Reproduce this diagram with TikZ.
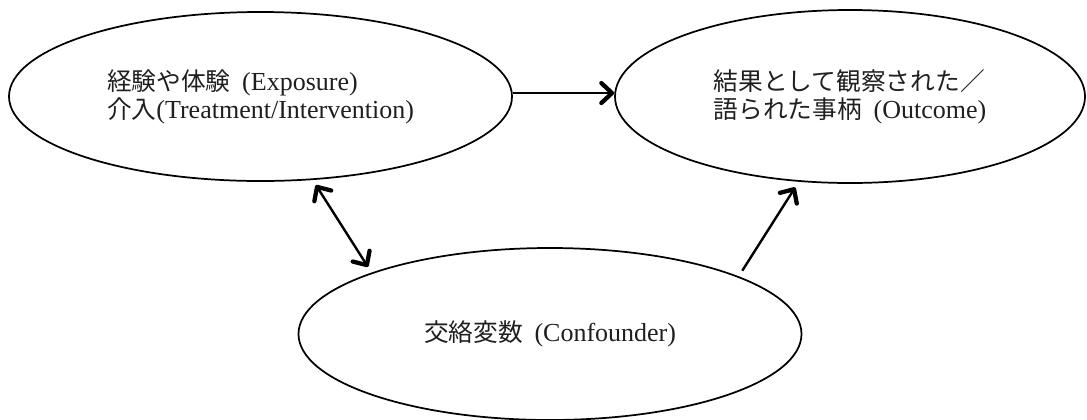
\documentclass[tikz,border=0pt]{standalone}
\usepackage{fontspec}
\setmainfont{Liberation Serif}
\newfontfamily\cjk[Scale=0.95]{Noto Sans CJK JP}
\usetikzlibrary{shapes.geometric,arrows.meta}
\begin{document}
\begin{tikzpicture}[x=0.75pt,y=-0.75pt,
  oval/.style={ellipse,draw,line width=1.3pt,inner sep=0pt,
    font=\fontsize{19.5pt}{21pt}\selectfont,align=left,text=black!88},
  >={Straight Barb[length=8pt,width=15pt,line width=3.2pt,round]},
  arr/.style={line width=1.8pt,->},
  darr/.style={line width=1.8pt,<->}]
\useasboundingbox (0,0) rectangle (1087,419);
\node[oval,minimum width=377.25pt,minimum height=126.75pt] (L) at (260.5,96.5)
  {{\cjk 経験や体験}\hspace{0.45em}(Exposure)\\{\cjk 介入}(Treatment/Intervention)};
\node[oval,minimum width=352.5pt,minimum height=129.75pt] (R) at (850,96.5)
  {{\cjk 結果として観察された／}\\{\cjk 語られた事柄}\hspace{0.45em}(Outcome)};
\node[oval,minimum width=377.25pt,minimum height=129pt] (C) at (550,334)
  {{\cjk 交絡変数}\hspace{0.45em}(Confounder)};
\draw[arr] ([yshift=2.6pt]L.east) -- ([yshift=2.6pt]R.west);
\draw[darr,shorten <=4.5pt,shorten >=5pt] (L.-58.6) -- (C.161.6);
\draw[arr,shorten <=5pt,shorten >=5pt] (C.17.8) -- (R.-121.1);
\end{tikzpicture}
\end{document}
